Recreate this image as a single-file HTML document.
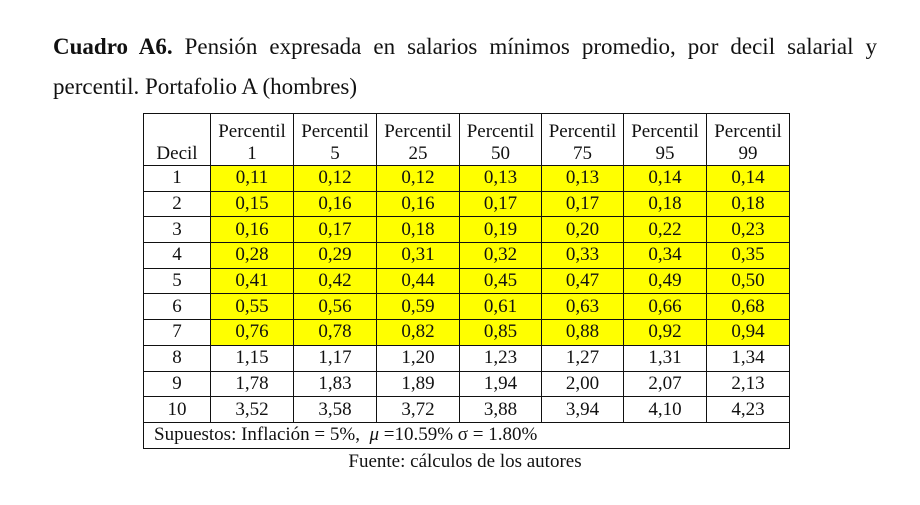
<!DOCTYPE html>
<html><head><meta charset="utf-8"><style>
body{margin:0;width:920px;height:505px;background:#fff;position:relative;font-family:"Liberation Serif","Times New Roman",serif;color:#111;overflow:hidden}
#title{position:absolute;left:53px;top:27px;width:824px;font-size:23px;line-height:40px;text-align:left}
#title .l1{display:block;text-align:justify;text-align-last:justify}
table{position:absolute;left:143px;top:113px;border-collapse:collapse;table-layout:fixed;font-size:19px}
td{border:1.5px solid #111;text-align:center;padding:0;height:24.7px;line-height:20px}
td.y{background:#ffff00}
tr.h td{height:51px;vertical-align:bottom;line-height:22px}
td.foot{text-align:left;padding-left:10px;height:25px}
#src{position:absolute;left:0;width:930px;top:451px;text-align:center;font-size:19px;line-height:22px}
</style></head><body>
<div id="title"><span class="l1"><b>Cuadro A6.</b> Pensión expresada en salarios mínimos promedio, por decil salarial y</span>percentil. Portafolio A (hombres)</div>
<table>
<colgroup><col style="width:67px"><col style="width:83px"><col style="width:83px"><col style="width:83px"><col style="width:82px"><col style="width:82px"><col style="width:83px"><col style="width:83px"></colgroup>
<tbody id="tb"></tbody>
</table>
<div id="src">Fuente: cálculos de los autores</div>
<script>
const headers=["1","5","25","50","75","95","99"];
const deciles=["1","2","3","4","5","6","7","8","9","10"];
const values=[
["0,11","0,12","0,12","0,13","0,13","0,14","0,14"],
["0,15","0,16","0,16","0,17","0,17","0,18","0,18"],
["0,16","0,17","0,18","0,19","0,20","0,22","0,23"],
["0,28","0,29","0,31","0,32","0,33","0,34","0,35"],
["0,41","0,42","0,44","0,45","0,47","0,49","0,50"],
["0,55","0,56","0,59","0,61","0,63","0,66","0,68"],
["0,76","0,78","0,82","0,85","0,88","0,92","0,94"],
["1,15","1,17","1,20","1,23","1,27","1,31","1,34"],
["1,78","1,83","1,89","1,94","2,00","2,07","2,13"],
["3,52","3,58","3,72","3,88","3,94","4,10","4,23"]];
const tb=document.getElementById('tb');
let h='<tr class="h"><td>Decil</td>';
headers.forEach(p=>{h+='<td>Percentil<br>'+p+'</td>';});
h+='</tr>';
deciles.forEach((d,i)=>{
h+='<tr><td>'+d+'</td>';
values[i].forEach(v=>{h+='<td class="'+(i<7?'y':'')+'">'+v+'</td>';});
h+='</tr>';});
h+='<tr><td colspan="8" class="foot">Supuestos: Inflación = 5%, &nbsp;<i>μ</i> =10.59% σ = 1.80%</td></tr>';
tb.innerHTML=h;
</script>
</body></html>
